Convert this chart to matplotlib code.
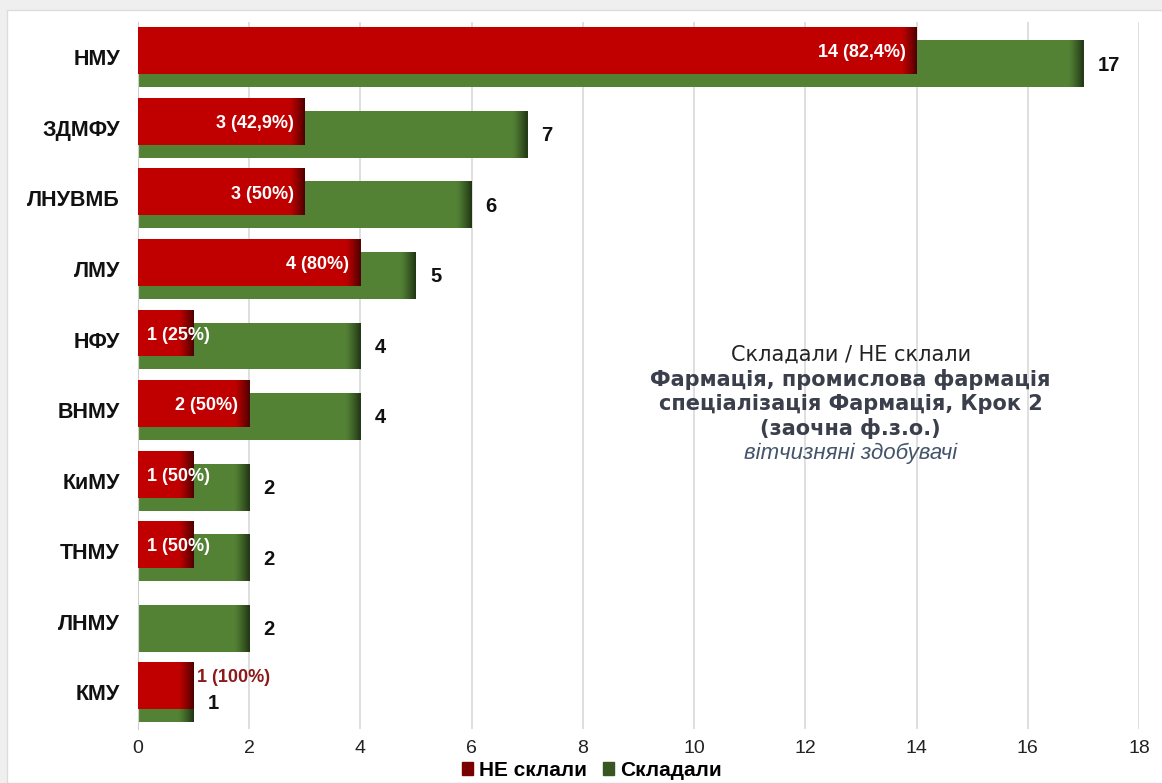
import matplotlib
matplotlib.use('Agg')
import matplotlib.pyplot as plt
from matplotlib.patches import Rectangle
import numpy as np

plt.rcParams['font.family'] = ['Liberation Sans', 'DejaVu Sans']

# data
universities = ['НМУ', 'ЗДМФУ', 'ЛНУВМБ', 'ЛМУ', 'НФУ', 'ВНМУ', 'КиМУ', 'ТНМУ', 'ЛНМУ', 'КМУ']
sat = [17, 7, 6, 5, 4, 4, 2, 2, 2, 1]
failed = [14, 3, 3, 4, 1, 2, 1, 1, 0, 1]
x_ticks = [0, 2, 4, 6, 8, 10, 12, 14, 16, 18]

red = '#c00000'
green = '#548235'
red_dark = '#4a0000'
green_dark = '#1f3313'

def pct_label(f, s):
    p = round(f / s * 100, 1)
    txt = ('%.1f' % p).replace('.', ',')
    if txt.endswith(',0'):
        txt = txt[:-2]
    return '%d (%s%%)' % (f, txt)

fig = plt.figure(figsize=(11.62, 7.83), dpi=100)
fig.patch.set_facecolor('#efefef')
fig.patches.append(Rectangle((7 / 1162, 0), 1, 1 - 10 / 783, transform=fig.transFigure,
                             facecolor='white', edgecolor='#dcdcdc', lw=1, zorder=-5))

ax = fig.add_axes([138 / 1162, 54 / 783, 1001 / 1162, 707 / 783])
ax.set_facecolor('none')

y = np.arange(len(universities))
h = 0.665
off = 0.092

gbars = ax.barh(y + off, sat, height=h, color=green, lw=0, zorder=2)
rbars = ax.barh(y - off, failed, height=h, color=red, lw=0, zorder=3)

# darker shading at the end of each bar
def shade(bars, dark, z):
    rgb = matplotlib.colors.to_rgb(dark)
    grad = np.zeros((1, 64, 4))
    grad[0, :, :3] = rgb
    grad[0, :, 3] = np.linspace(0, 1, 64) ** 1.3
    for b in bars:
        w = b.get_width()
        if w <= 0:
            continue
        y0 = b.get_y()
        y1 = y0 + b.get_height()
        im = ax.imshow(grad, extent=[w - 0.28, w, y1, y0], aspect='auto', zorder=z,
                       interpolation='bilinear')
        im.set_clip_path(b)

shade(gbars, green_dark, 2.5)
shade(rbars, red_dark, 3.5)

# labels
for i, (s, f) in enumerate(zip(sat, failed)):
    gy = i + off + 0.02
    if f == s:
        gy = i + off + 0.07
    ax.text(s + 0.25, gy, str(s), ha='left', va='center',
            fontsize=14.5, fontweight='bold', color='#111111', zorder=5)
    if f == 0:
        continue
    lab = pct_label(f, s)
    if f == s:
        ax.text(f + 0.06, i - off - 0.12, lab, ha='left', va='center',
                fontsize=13, fontweight='bold', color='#8b1a1a', zorder=5)
    elif f >= 2:
        ax.text(f - 0.2, i - off + 0.03, lab, ha='right', va='center',
                fontsize=13, fontweight='bold', color='white', zorder=5)
    else:
        ax.text(0.17, i - off + 0.03, lab, ha='left', va='center',
                fontsize=13, fontweight='bold', color='white', zorder=5)

ax.set_xlim(0, 18)
ax.set_ylim(len(universities) - 0.48, -0.5)
ax.set_xticks(x_ticks)
ax.set_xticklabels([str(t) for t in x_ticks], fontsize=14, color='#222222')
ax.set_yticks(y)
ax.set_yticklabels(universities, fontsize=15.5, fontweight='bold', color='#111111')
ax.tick_params(axis='both', length=0)
ax.tick_params(axis='y', pad=13)
ax.tick_params(axis='x', pad=8)
ax.xaxis.grid(True, color='#d9d9d9', lw=1.2, zorder=0)
ax.set_axisbelow(True)
for side in ['top', 'right', 'bottom']:
    ax.spines[side].set_visible(False)
ax.spines['left'].set_color('#cfcfcf')

# text block
cx = 0.732
tb = dict(ha='center', va='center', fontsize=15, family='DejaVu Sans')
fig.text(cx, 1 - 355 / 783, 'Складали / НЕ склали', color='#222222', **tb)
fig.text(cx, 1 - 380 / 783, 'Фармація, промислова фармація', fontweight='bold', color='#3b3f4c', **tb)
fig.text(cx, 1 - 404 / 783, 'спеціалізація Фармація, Крок 2', fontweight='bold', color='#3b3f4c', **tb)
fig.text(cx, 1 - 429 / 783, '(заочна ф.з.о.)', fontweight='bold', color='#3b3f4c', **tb)
fig.text(cx, 1 - 453 / 783, 'вітчизняні здобувачі', style='italic', color='#44546a',
         ha='center', va='center', fontsize=16, family='Liberation Sans')

# legend
handles = [Rectangle((0, 0), 1, 1, color='#7a0000'), Rectangle((0, 0), 1, 1, color='#375623')]
fig.legend(handles, ['НЕ склали', 'Складали'], loc='center', bbox_to_anchor=(592 / 1162, 1 - 770 / 783),
           ncol=2, frameon=False, handlelength=0.5, handleheight=0.6, handletextpad=0.3,
           columnspacing=0.8, prop={'size': 15, 'weight': 'bold'})

fig.savefig('out.png', dpi=100, facecolor=fig.get_facecolor())
